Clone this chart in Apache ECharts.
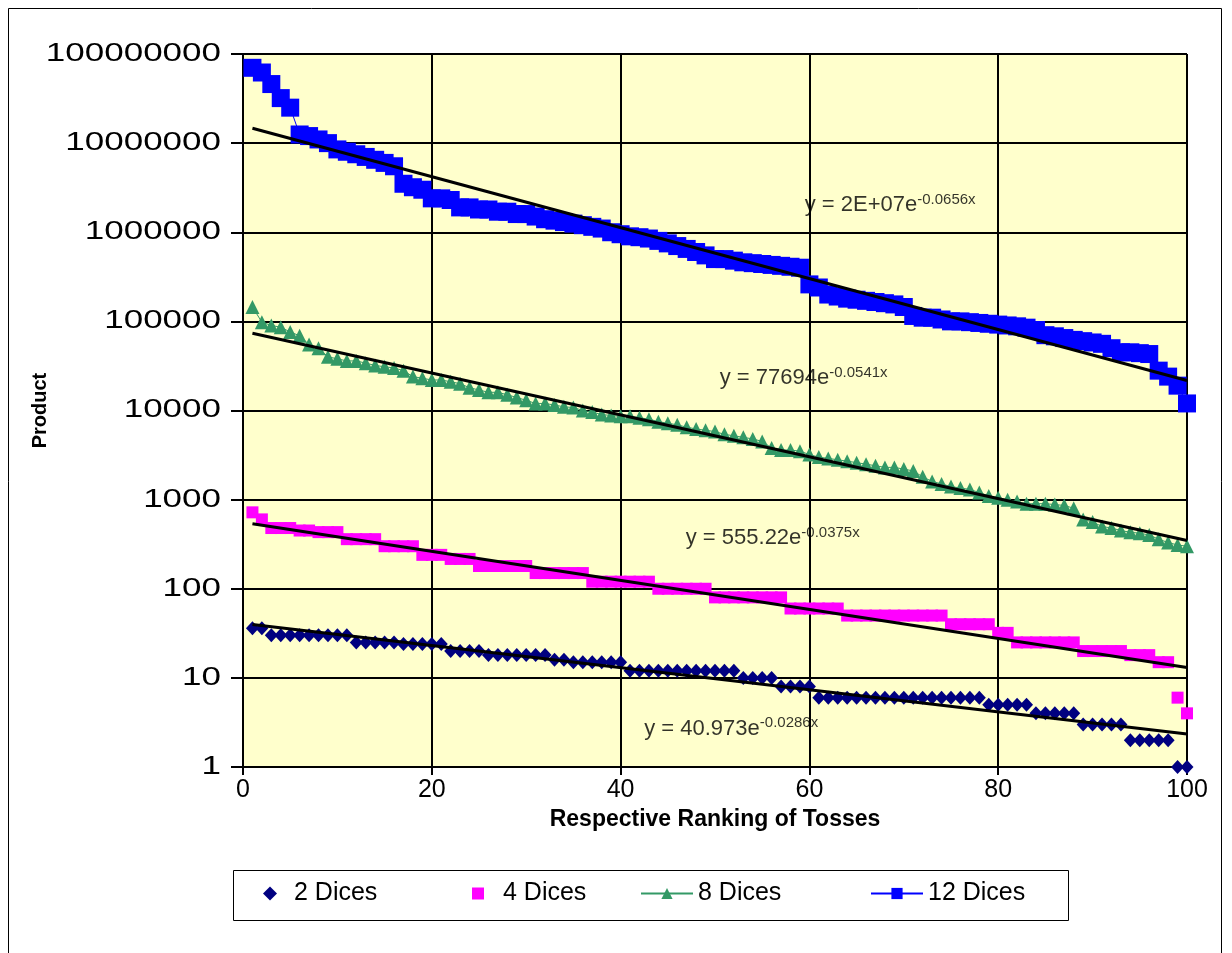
<!DOCTYPE html>
<html>
<head>
<meta charset="utf-8">
<title>Product of dice tosses</title>
<script src="https://cdn.jsdelivr.net/npm/echarts@6/dist/echarts.min.js"></script>
<style>
  html, body { margin: 0; padding: 0; background: #ffffff; }
  #chart { width: 1232px; height: 953px; }
</style>
</head>
<body>
<div id="chart"></div>
<script>
// products of the dice, sorted high to low, rank 1..100
const dice2 = [36, 36, 30, 30, 30, 30, 30, 30, 30, 30, 30, 25, 25, 25, 25, 25, 24, 24, 24, 24,
  24, 20, 20, 20, 20, 18, 18, 18, 18, 18, 18, 18, 16, 16, 15, 15, 15, 15, 15, 15,
  12, 12, 12, 12, 12, 12, 12, 12, 12, 12, 12, 12, 10, 10, 10, 10, 8, 8, 8, 8,
  6, 6, 6, 6, 6, 6, 6, 6, 6, 6, 6, 6, 6, 6, 6, 6, 6, 6, 5, 5,
  5, 5, 5, 4, 4, 4, 4, 4, 3, 3, 3, 3, 3, 2, 2, 2, 2, 2, 1, 1]
const dice4 = [720, 600, 480, 480, 480, 450, 450, 432, 432, 432, 360, 360, 360, 360, 300, 300, 300, 300, 240, 240,
  240, 216, 216, 216, 180, 180, 180, 180, 180, 180, 150, 150, 150, 150, 150, 150, 120, 120, 120, 120,
  120, 120, 120, 100, 100, 100, 100, 100, 100, 80, 80, 80, 80, 80, 80, 80, 80, 60, 60, 60,
  60, 60, 60, 50, 50, 50, 50, 50, 50, 50, 50, 50, 50, 50, 40, 40, 40, 40, 40, 32,
  32, 25, 25, 25, 25, 25, 25, 25, 20, 20, 20, 20, 20, 18, 18, 18, 15, 15, 6, 4]
const dice8 = [145000, 98000, 90000, 86000, 76000, 69000, 55000, 50000, 40000, 38000,
  36000, 36000, 34000, 32000, 31000, 30000, 28000, 24000, 23000, 22000,
  22000, 21000, 20000, 18000, 17000, 16000, 16000, 15000, 14000, 13000,
  12000, 12000, 11500, 11000, 10800, 10000, 9600, 9000, 8800, 8600,
  8600, 8300, 8000, 7500, 7200, 6900, 6500, 6200, 6000, 5800,
  5400, 5200, 5000, 4800, 4500, 3800, 3600, 3600, 3500, 3200,
  3000, 2900, 2800, 2700, 2600, 2500, 2400, 2300, 2300, 2200,
  2100, 1800, 1600, 1500, 1400, 1350, 1300, 1200, 1100, 1050,
  1000, 950, 900, 900, 900, 880, 860, 800, 600, 560,
  500, 480, 450, 430, 420, 400, 360, 330, 310, 300]
const dice12 = [70000000, 62000000, 46000000, 32000000, 25000000, 12500000, 12000000, 11000000, 10000000, 8500000,
  8000000, 7500000, 7000000, 6500000, 6000000, 5500000, 3500000, 3200000, 3000000, 2400000,
  2400000, 2300000, 1900000, 1900000, 1800000, 1800000, 1700000, 1700000, 1600000, 1600000,
  1500000, 1400000, 1350000, 1300000, 1250000, 1200000, 1150000, 1100000, 1000000, 950000,
  900000, 880000, 850000, 800000, 750000, 700000, 650000, 600000, 550000, 500000,
  500000, 480000, 460000, 450000, 440000, 430000, 420000, 410000, 400000, 260000,
  240000, 200000, 190000, 180000, 175000, 170000, 165000, 160000, 155000, 145000,
  115000, 110000, 110000, 105000, 100000, 100000, 98000, 96000, 94000, 92000,
  90000, 88000, 85000, 80000, 70000, 68000, 65000, 62000, 60000, 58000,
  56000, 50000, 45000, 45000, 44000, 43000, 28000, 24000, 19000, 12000]

// trendline end points [rank, value] and equation labels
const trend2 = [[1, 39.8], [100, 2.35]]
const trend4 = [[1, 535], [100, 13.1]]
const trend8 = [[1, 73600], [100, 348]]
const trend12 = [[1, 14700000], [100, 21700]]
const eqText = [
  ['y = 40.973e', '-0.0286x'],
  ['y = 555.22e', '-0.0375x'],
  ['y = 77694e', '-0.0541x'],
  ['y = 2E+07e', '-0.0656x']
]
const eqPos = [[42.5, 2.7], [46.9, 370], [50.5, 23000], [59.5, 2000000]]

// y tick values and their labels
const yTicks = [1, 10, 100, 1000, 10000, 100000, 1000000, 10000000, 100000000]
const yTickLabels = ['1', '10', '100', '1000', '10000', '100000', '1000000', '10000000', '100000000']

const FONT = 'Liberation Sans, Arial, sans-serif'

const chart = echarts.init(document.getElementById('chart'))

const toPairs = arr => arr.map((v, i) => [i + 1, v])

function trendSeries(data) {
  return {
    type: 'line',
    data: data,
    symbol: 'none',
    silent: true,
    z: 5,
    lineStyle: { color: '#000000', width: 3 }
  }
}

// one legend per entry so each can sit where the original puts it
function legendAt(name, left, iconW, iconH, textPad) {
  return {
    data: [name],
    left: left,
    top: 881,
    padding: 0,
    itemWidth: iconW,
    itemHeight: iconH,
    itemGap: 0,
    selectedMode: false,
    textStyle: { fontFamily: FONT, fontSize: 25, color: '#000000', padding: [0, 0, 0, textPad] }
  }
}

const frames = [
  {
    type: 'rect',
    shape: { x: 8.5, y: 8.5, width: 1213, height: 960 },
    style: { fill: null, stroke: '#000000', lineWidth: 1 },
    silent: true
  },
  {
    type: 'rect',
    shape: { x: 233.5, y: 870.5, width: 835, height: 50 },
    style: { fill: null, stroke: '#000000', lineWidth: 1 },
    silent: true
  }
]

const option = {
  animation: false,
  backgroundColor: '#ffffff',
  textStyle: { fontFamily: FONT },
  grid: {
    left: 243,
    right: 45,
    top: 54,
    bottom: 186,
    show: true,
    backgroundColor: '#FFFFCC',
    borderColor: '#808080',
    borderWidth: 1
  },
  legend: [
    legendAt('2 Dices', 263, 14, 14, 12),
    legendAt('4 Dices', 472, 12, 12, 14),
    legendAt('8 Dices', 640, 52, 14, 0),
    legendAt('12 Dices', 870, 52, 14, 0)
  ],
  graphic: frames,
  xAxis: {
    type: 'value',
    min: 0,
    max: 100,
    interval: 20,
    name: 'Respective Ranking of Tosses',
    nameLocation: 'middle',
    nameGap: 34,
    nameTextStyle: { fontFamily: FONT, fontSize: 23, fontWeight: 'bold', color: '#000000' },
    axisLine: { lineStyle: { color: '#000000', width: 2 } },
    axisTick: { show: true, length: 8, lineStyle: { color: '#000000', width: 2 } },
    axisLabel: { fontFamily: FONT, fontSize: 25, color: '#000000', margin: 11 },
    splitLine: { show: true, lineStyle: { color: '#000000', width: 2 } }
  },
  yAxis: {
    type: 'log',
    logBase: 10,
    min: 1,
    max: 100000000,
    name: 'Product',
    nameLocation: 'middle',
    nameGap: 193,
    nameRotate: 90,
    nameTextStyle: { fontFamily: FONT, fontSize: 20, fontWeight: 'bold', color: '#000000' },
    axisLine: { lineStyle: { color: '#000000', width: 2 } },
    axisTick: { show: true, length: 12, lineStyle: { color: '#000000', width: 2 } },
    axisLabel: { show: false },
    splitLine: { show: true, lineStyle: { color: '#000000', width: 2 } },
    minorSplitLine: { show: false }
  },
  series: [
    {
      name: '2 Dices',
      type: 'scatter',
      data: toPairs(dice2),
      symbol: 'diamond',
      symbolSize: [13, 14],
      itemStyle: { color: '#000080', opacity: 1 },
      z: 2
    },
    {
      name: '4 Dices',
      type: 'scatter',
      data: toPairs(dice4),
      symbol: 'rect',
      symbolSize: 12,
      itemStyle: { color: '#FF00FF', opacity: 1 },
      z: 2
    },
    {
      name: '8 Dices',
      type: 'line',
      data: toPairs(dice8),
      symbol: 'triangle',
      symbolSize: 14,
      showAllSymbol: true,
      itemStyle: { color: '#339966' },
      lineStyle: { color: '#339966', width: 1 },
      z: 2
    },
    {
      name: '12 Dices',
      type: 'line',
      data: toPairs(dice12),
      symbol: 'rect',
      symbolSize: 18,
      showAllSymbol: true,
      itemStyle: { color: '#0000FF' },
      lineStyle: { color: '#0000FF', width: 1 },
      z: 2
    },
    trendSeries(trend2),
    trendSeries(trend4),
    trendSeries(trend8),
    trendSeries(trend12),
    {
      type: 'scatter',
      silent: true,
      symbolSize: 0,
      z: 6,
      data: eqPos.map((p, i) => ({ value: p, eq: eqText[i] })),
      label: {
        show: true,
        position: 'right',
        distance: 0,
        formatter: p => '{a|' + p.data.eq[0] + '}{b|' + p.data.eq[1] + '}',
        rich: {
          a: { fontFamily: FONT, fontSize: 22, color: '#000000', lineHeight: 26 },
          b: { fontFamily: FONT, fontSize: 15, color: '#000000', verticalAlign: 'top' }
        }
      }
    }
  ]
}

chart.setOption(option)

// y labels in the original are drawn wide; place them on the log scale and stretch them a little
const yLabels = yTicks.map((v, i) => ({
  type: 'text',
  x: 221,
  y: chart.convertToPixel({ yAxisIndex: 0 }, v),
  scaleX: 1.4,
  silent: true,
  style: {
    text: yTickLabels[i],
    align: 'right',
    verticalAlign: 'middle',
    font: '25px "Liberation Sans", Arial, sans-serif',
    fill: '#000000'
  }
}))
chart.setOption({ graphic: frames.concat(yLabels) })
</script>
</body>
</html>
